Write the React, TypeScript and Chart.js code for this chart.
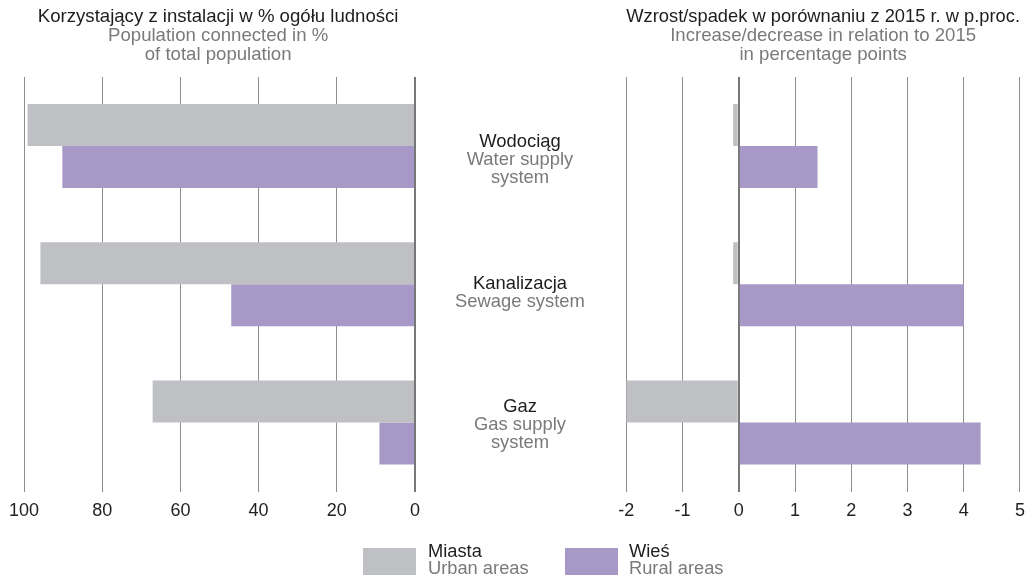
import React, { useEffect, useRef } from 'react';
import { Chart, registerables } from 'chart.js';
Chart.register(...registerables);

// ---- data ----
const categoriesPl = ['Wodociąg', 'Kanalizacja', 'Gaz'];
const categoriesEn = [['Water supply', 'system'], ['Sewage system'], ['Gas supply', 'system']];
const seriesNamesPl = ['Miasta', 'Wieś'];
const seriesNamesEn = ['Urban areas', 'Rural areas'];
const urbanShare = [99.1, 95.8, 67.1];
const ruralShare = [90.2, 47.0, 9.1];
const urbanChange = [-0.1, -0.1, -2.0];
const ruralChange = [1.4, 4.0, 4.3];
const leftTitle = 'Korzystający z instalacji w % ogółu ludności';
const leftSubtitle = ['Population connected in %', 'of total population'];
const rightTitle = 'Wzrost/spadek w porównaniu z 2015 r. w p.proc.';
const rightSubtitle = ['Increase/decrease in relation to 2015', 'in percentage points'];
const shareRange = [0, 100, 20];
const changeRange = [-2, 5, 1];

// ---- styles ----
const FONT = "'Liberation Sans', Arial, sans-serif";
const DARK = '#1d1d1b';
const GRAY_TEXT = '#7a7a7a';
const COLORS = ['#bfc0c4', '#a898c8'];
const GRID = '#8e8e8e';
const ZERO = '#777777';
const labelShift = [0.7, 4.6, -11];

const middleLabels = {
  id: 'middleLabels',
  afterDraw(chart: any) {
    const ctx = chart.ctx;
    const y = chart.scales.y;
    const cx = chart.chartArea.left - 106.3;
    ctx.save();
    ctx.textAlign = 'center';
    ctx.textBaseline = 'alphabetic';
    ctx.font = `18.4px ${FONT}`;
    categoriesPl.forEach((c, i) => {
      const base = y.getPixelForValue(i) + labelShift[i];
      ctx.fillStyle = DARK;
      ctx.fillText(c, cx, base);
      ctx.fillStyle = GRAY_TEXT;
      categoriesEn[i].forEach((l, j) => ctx.fillText(l, cx, base + 18.3 * (j + 1)));
    });
    ctx.restore();
  },
};

function makeConfig(
  urban: number[],
  rural: number[],
  title: string,
  subtitle: string[],
  range: number[],
  reverse: boolean,
  padding: any,
  plugins: any[]
): any {
  return {
    type: 'bar',
    data: {
      labels: categoriesPl,
      datasets: [
        { label: seriesNamesPl[0], data: urban, backgroundColor: COLORS[0], categoryPercentage: 0.607, barPercentage: 1 },
        { label: seriesNamesPl[1], data: rural, backgroundColor: COLORS[1], categoryPercentage: 0.607, barPercentage: 1 },
      ],
    },
    plugins,
    options: {
      indexAxis: 'y',
      responsive: false,
      animation: false,
      layout: { padding },
      plugins: {
        legend: { display: false },
        tooltip: { enabled: false },
        title: {
          display: true,
          text: title,
          color: DARK,
          font: { family: FONT, size: 18.6, weight: 'normal', lineHeight: '18.54px' },
          padding: { top: 7.8, bottom: 0 },
        },
        subtitle: {
          display: true,
          text: subtitle,
          color: GRAY_TEXT,
          font: { family: FONT, size: 18.6, weight: 'normal', lineHeight: '18.54px' },
          padding: { top: 0.4, bottom: 13.1 },
        },
      },
      scales: {
        x: {
          type: 'linear',
          min: range[0],
          max: range[1],
          reverse,
          border: { display: false },
          grid: {
            drawTicks: false,
            color: (c: any) => (c.tick && c.tick.value === 0 ? ZERO : GRID),
            lineWidth: (c: any) => (c.tick && c.tick.value === 0 ? 2 : 1),
          },
          ticks: {
            stepSize: range[2],
            padding: 9,
            color: '#222',
            font: { family: FONT, size: 18 },
          },
        },
        y: {
          type: 'category',
          display: false,
        },
      },
    },
  };
}

export default function App() {
  const leftRef = useRef<HTMLCanvasElement>(null);
  const rightRef = useRef<HTMLCanvasElement>(null);

  useEffect(() => {
    const left = new Chart(
      leftRef.current as HTMLCanvasElement,
      makeConfig(urbanShare, ruralShare, leftTitle, leftSubtitle, shareRange, true,
        { left: 21.3, right: 15, top: 0, bottom: 47.7 }, [])
    );
    const right = new Chart(
      rightRef.current as HTMLCanvasElement,
      makeConfig(urbanChange, ruralChange, rightTitle, rightSubtitle, changeRange, false,
        { left: 196.3, right: 14, top: 0, bottom: 47.7 }, [middleLabels])
    );
    return () => {
      left.destroy();
      right.destroy();
    };
  }, []);

  const legendX = [[363, 428], [565, 629]];

  return (
    <div style={{ position: 'absolute', left: 0, top: 0, width: 1034, height: 579, background: '#fff', overflow: 'hidden' }}>
      <canvas ref={leftRef} width={430} height={579} style={{ position: 'absolute', left: 0, top: 0 }} />
      <canvas ref={rightRef} width={604} height={579} style={{ position: 'absolute', left: 430, top: 0 }} />
      {seriesNamesPl.map((name, i) => (
        <React.Fragment key={name}>
          <div style={{ position: 'absolute', left: legendX[i][0], top: 548, width: 53, height: 26.5, background: COLORS[i] }} />
          <div style={{ position: 'absolute', left: legendX[i][1], top: 541.7, fontFamily: FONT, fontSize: 18.3, lineHeight: '17.5px', whiteSpace: 'nowrap' }}>
            <div style={{ color: DARK }}>{name}</div>
            <div style={{ color: GRAY_TEXT }}>{seriesNamesEn[i]}</div>
          </div>
        </React.Fragment>
      ))}
    </div>
  );
}
